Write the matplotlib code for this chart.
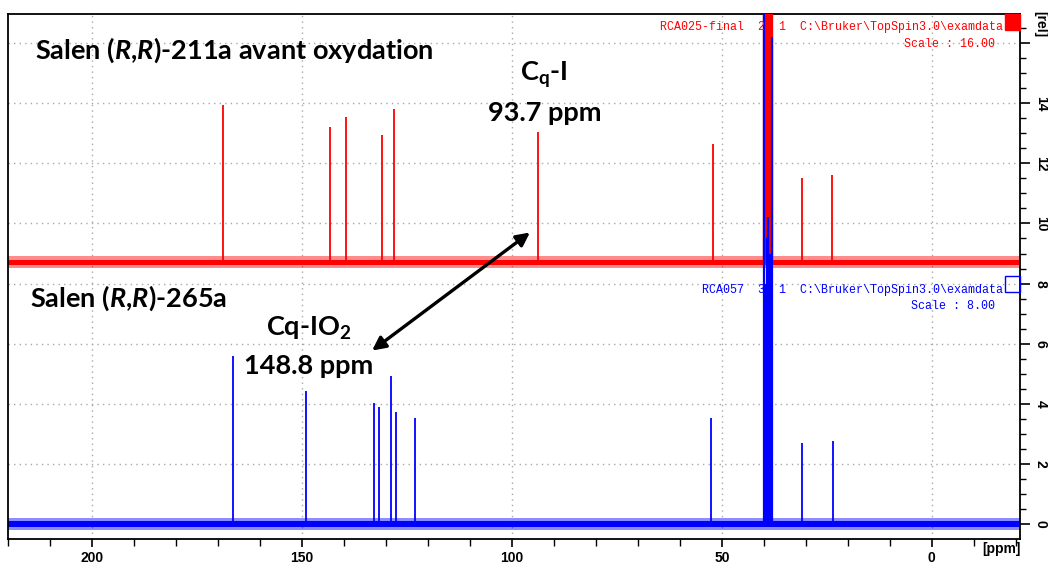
import matplotlib
matplotlib.use('Agg')
import matplotlib.pyplot as plt
from matplotlib.patches import Rectangle

# 13C spectra, values (ppm, top of peak on the [rel] axis)
red_base = 8.71
red_ppm = [168.9, 143.2, 139.4, 130.9, 128.1, 93.7, 52.0, 31.0, 23.8]
red_top = [13.93, 13.2, 13.53, 12.93, 13.8, 13.03, 12.63, 11.5, 11.6]
red_dmso_ppm = [40.0, 39.7, 39.4, 39.1, 38.8, 38.5, 38.2]
red_dmso_top = [20, 20, 20, 20, 20, 20, 20]

blue_base = 0.0
blue_ppm = [166.3, 149.0, 132.9, 131.7, 128.9, 127.7, 123.1, 52.5, 30.8, 23.6]
blue_top = [5.6, 4.41, 4.02, 3.88, 4.91, 3.73, 3.51, 3.51, 2.71, 2.77]
blue_dmso_ppm = [40.0, 39.7, 39.3, 38.95, 38.6, 38.3, 38.1]
blue_dmso_top = [17.5, 8.0, 9.5, 10.2, 9.0, 7.0, 16.2]

noise_core = 0.09
noise_outer = 0.2
ppm_range = [220, -21]

xticks = [200, 150, 100, 50, 0]
yticks = [0, 2, 4, 6, 8, 10, 12, 14, 16]

RED = '#ff0000'
BLUE = '#0000ff'

plt.rcParams['mathtext.fontset'] = 'custom'
plt.rcParams['mathtext.rm'] = 'Lato:bold'
plt.rcParams['mathtext.it'] = 'Lato:italic:bold'
plt.rcParams['mathtext.bf'] = 'Lato:bold'

W, H = 1048, 565
fig = plt.figure(figsize=(W / 100, H / 100), dpi=100)
ax = fig.add_axes([8 / W, 1 - 539 / H, 1012 / W, 525 / H])

# baselines (noise drawn as a band)
for base, col in [(red_base, RED), (blue_base, BLUE)]:
    ax.fill_between(ppm_range, base - noise_outer, base + noise_outer, color=col, alpha=0.45, lw=0, zorder=2)
    ax.fill_between(ppm_range, base - noise_core, base + noise_core, color=col, lw=0, zorder=2)

ax.vlines(red_ppm, red_base, red_top, color=RED, lw=1.3, zorder=3)
ax.vlines(red_dmso_ppm, red_base, red_dmso_top, color=RED, lw=2.4, zorder=3)
ax.vlines(blue_ppm, blue_base, blue_top, color=BLUE, lw=1.3, zorder=4)
ax.vlines(blue_dmso_ppm, blue_base, blue_dmso_top, color=BLUE, lw=1.6, zorder=4)

ax.set_xlim(ppm_range)
ax.set_ylim(-0.5, 16.97)

ax.set_xticks(xticks)
ax.set_xticks(range(-20, 221, 10), minor=True)
ax.set_xticklabels([str(t) for t in xticks])
ax.yaxis.tick_right()
ax.set_yticks(yticks)
ax.set_yticks([v * 0.5 for v in range(0, 34)], minor=True)
ax.set_yticklabels([str(t) if t < 16 else '' for t in yticks], rotation=-90, va='center')
ax.tick_params(axis='x', which='major', length=6, width=1.2, direction='out', pad=3)
ax.tick_params(axis='x', which='minor', length=5, width=1.0, direction='out')
ax.tick_params(axis='y', which='major', length=7, width=1.2, direction='out', pad=3)
ax.tick_params(axis='y', which='minor', length=4, width=1.0, direction='out')
for lab in ax.get_xticklabels() + ax.get_yticklabels():
    lab.set_fontfamily('Liberation Sans')
    lab.set_fontweight('bold')
    lab.set_fontsize(10)
for s in ax.spines.values():
    s.set_linewidth(1.3)

ax.grid(True, which='major', color='#a8a8a8', linestyle=(0, (1, 3)), linewidth=1.0, zorder=0)
ax.set_axisbelow(True)

fig.text(1040 / W, 1 - 24 / H, '[rel]', rotation=-90, ha='center', va='center',
         fontfamily='Liberation Sans', fontweight='bold', fontsize=10)
fig.text(1001 / W, 1 - 549 / H, '[ppm]', ha='center', va='center',
         fontfamily='Liberation Sans', fontweight='bold', fontsize=10)

# TopSpin headers
mono = dict(fontfamily='Liberation Mono', fontsize=8.4, ha='right', va='center')
fig.text(1003 / W, 1 - 27 / H, 'RCA025-final  2  1  C:\\Bruker\\TopSpin3.0\\examdata', color=RED, **mono)
fig.text(995 / W, 1 - 44 / H, 'Scale : 16.00', color=RED, **mono)
fig.text(1003 / W, 1 - 290 / H, 'RCA057  3  1  C:\\Bruker\\TopSpin3.0\\examdata', color=BLUE, **mono)
fig.text(995 / W, 1 - 306 / H, 'Scale : 8.00', color=BLUE, **mono)
fig.add_artist(Rectangle((1005 / W, 1 - 30 / H), 15 / W, 16 / H, transform=fig.transFigure,
                         facecolor=RED, edgecolor=RED, zorder=5))
fig.add_artist(Rectangle((1005 / W, 1 - 292 / H), 15 / W, 16 / H, transform=fig.transFigure,
                         facecolor='none', edgecolor=BLUE, lw=1.0, zorder=5))

# annotations
big = dict(fontfamily='Lato', fontweight='bold', fontsize=19.5, va='center')
fig.text(35 / W, 1 - 50 / H, r'Salen ($\mathit{R}$,$\mathit{R}$)-211a avant oxydation', ha='left', **big)
fig.text(30 / W, 1 - 298 / H, r'Salen ($\mathit{R}$,$\mathit{R}$)-265a', ha='left', **big)
fig.text(544 / W, 1 - 75 / H, r'C$_\mathregular{q}$-I', ha='center', **big)
fig.text(545 / W, 1 - 113 / H, '93.7 ppm', ha='center', **big)
fig.text(309 / W, 1 - 328 / H, r'Cq-IO$_\mathregular{2}$', ha='center', **big)
fig.text(309 / W, 1 - 366 / H, '148.8 ppm', ha='center', **big)

ax.annotate('', xy=(95.7, 9.7), xytext=(133.3, 5.77),
            arrowprops=dict(arrowstyle='<|-|>', color='black', lw=2.4,
                            mutation_scale=20, shrinkA=0, shrinkB=0), zorder=6)

fig.savefig('out.png', dpi=100)
